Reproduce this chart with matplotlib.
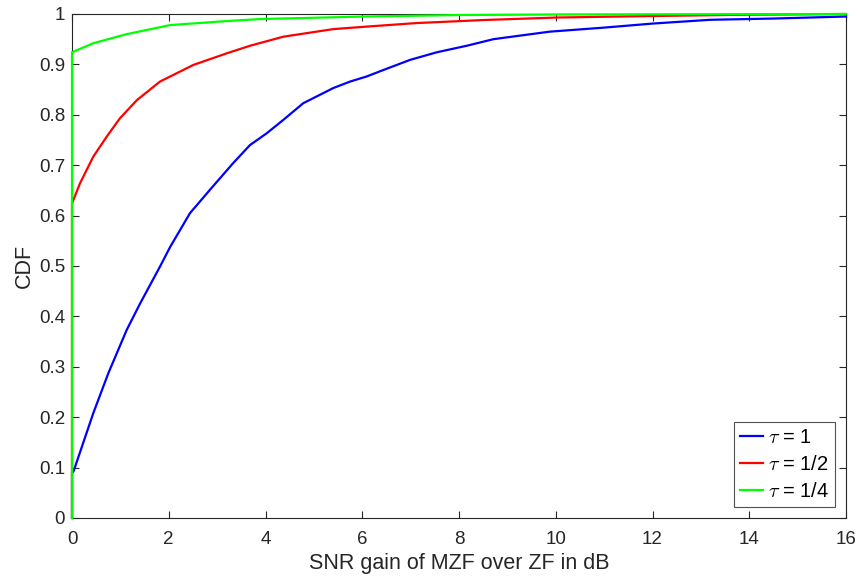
import matplotlib.pyplot as plt

plt.rcParams['font.family'] = ['Liberation Sans', 'DejaVu Sans']
plt.rcParams['mathtext.fontset'] = 'cm'

# CDF des gains SNR
blue_x = [0, 0, 0.03, 0.44, 0.75, 1.13, 1.41, 1.82, 2.03, 2.44, 2.85, 3.33, 3.68, 4.02,
          4.37, 4.78, 5.40, 5.75, 6.09, 6.44, 6.99, 7.54, 8.16, 8.71, 9.33, 9.88,
          11.0, 12.0, 13.19, 14.5, 16]
blue_y = [0, 0.09, 0.092, 0.208, 0.287, 0.373, 0.426, 0.499, 0.538, 0.605, 0.651, 0.704,
          0.740, 0.763, 0.790, 0.823, 0.853, 0.866, 0.876, 0.889, 0.909, 0.924, 0.937,
          0.950, 0.958, 0.965, 0.973, 0.981, 0.9885, 0.991, 0.995]

red_x = [0, 0, 0.165, 0.44, 0.72, 0.99, 1.34, 1.82, 2.51, 3.2, 3.68, 4.37, 5.40, 6.09,
         7.12, 8.5, 10.02, 12, 13.98, 16]
red_y = [0, 0.624, 0.664, 0.717, 0.757, 0.793, 0.829, 0.866, 0.899, 0.922, 0.937, 0.955,
         0.970, 0.975, 0.982, 0.988, 0.993, 0.996, 0.9986, 1.0]

green_x = [0, 0, 0.44, 1.13, 2.03, 3.2, 3.9, 6.06, 8.04, 10, 16]
green_y = [0, 0.924, 0.942, 0.960, 0.978, 0.986, 0.99, 0.995, 0.998, 0.999, 1.0]

labels = [r'$\tau$ = 1', r'$\tau$ = 1/2', r'$\tau$ = 1/4']

fig = plt.figure(figsize=(8.58, 5.77), dpi=100)
ax = fig.add_axes([72 / 858, 59 / 577, 774 / 858, 504 / 577])

ax.plot(blue_x, blue_y, color=(0, 0, 1), lw=1.6, label=labels[0], clip_on=False, zorder=3)
ax.plot(red_x, red_y, color=(1, 0, 0), lw=1.6, label=labels[1], clip_on=False, zorder=3)
ax.plot(green_x, green_y, color=(0, 1, 0), lw=1.6, label=labels[2], clip_on=False, zorder=3)

ax.set_xlim(0, 16)
ax.set_ylim(0, 1)
ax.set_xticks(range(0, 17, 2))
ax.set_yticks([i / 10 for i in range(11)])
ax.set_yticklabels(['0'] + ['%.1f' % (i / 10) for i in range(1, 10)] + ['1'])

ax.tick_params(direction='in', top=True, right=True, length=5, width=0.8,
               labelsize=13.5, colors='#262626')
ax.tick_params(axis='x', pad=9)
ax.tick_params(axis='y', pad=5)
for s in ax.spines.values():
    s.set_color('#262626')
    s.set_linewidth(0.8)

ax.set_xlabel('SNR gain of MZF over ZF in dB', fontsize=15.5, color='#262626', labelpad=4)
ax.set_ylabel('CDF', fontsize=15.5, color='#262626', labelpad=3)

leg = ax.legend(loc='lower right', fontsize=14.5, frameon=True, fancybox=False,
                edgecolor='#262626', handlelength=1.15, handletextpad=0.25,
                borderpad=0.3, labelspacing=0.4, borderaxespad=0.55)
leg.get_frame().set_linewidth(0.8)
leg.set_zorder(4)

fig.savefig('out.png', dpi=100)
